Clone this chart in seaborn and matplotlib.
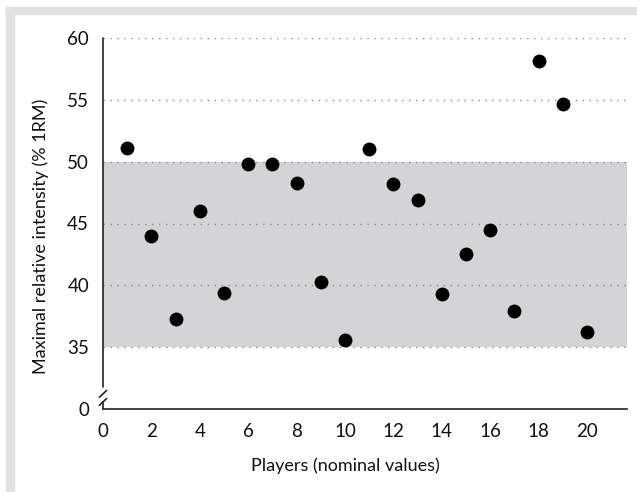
import numpy as np
import pandas as pd
import matplotlib
matplotlib.use("Agg")
import matplotlib.pyplot as plt
from matplotlib.patches import Rectangle
from matplotlib.lines import Line2D
import seaborn as sns

# ---------------------------------------------------------------------------
# Data
# ---------------------------------------------------------------------------
players = [1, 2, 3, 4, 5, 6, 7, 8, 9, 10,
           11, 12, 13, 14, 15, 16, 17, 18, 19, 20]
intensity = [51.1, 44.0, 37.3, 46.0, 39.4, 49.8, 49.8, 48.3, 40.3, 35.6,
             51.0, 48.2, 46.9, 39.3, 42.5, 44.5, 37.9, 58.1, 54.7, 36.2]

band_low, band_high = 35, 50          # shaded reference range
y_ticks = [30, 35, 40, 45, 50, 55, 60]  # 30 stands in for the broken "0"
y_ticklabels = ["0", "35", "40", "45", "50", "55", "60"]
x_ticks = [0, 2, 4, 6, 8, 10, 12, 14, 16, 18, 20]

df = pd.DataFrame({"player": players, "intensity": intensity})

# ---------------------------------------------------------------------------
# Styling
# ---------------------------------------------------------------------------
sns.set_theme(style="white")
plt.rcParams["font.family"] = ["Lato", "DejaVu Sans"]
plt.rcParams["axes.linewidth"] = 1.2

fig = plt.figure(figsize=(6.37, 4.92), dpi=100)

# outer frame: grey bands at top and left
fig.patches.append(Rectangle((6 / 637, 1 - 14 / 492), 1, 7 / 492,
                             transform=fig.transFigure, color="#e1e1e3", zorder=0))
fig.patches.append(Rectangle((6 / 637, 0), 8 / 637, 1 - 7 / 492,
                             transform=fig.transFigure, color="#e1e1e3", zorder=0))

ax = fig.add_axes([103 / 637, 1 - 409 / 492, 524 / 637, 371 / 492])
ax.set_facecolor("none")

x_max = 21.65
ax.set_xlim(0, x_max)
ax.set_ylim(30, 60)

# shaded band
ax.axhspan(band_low, band_high, color="#d4d4d6", lw=0, zorder=0)

# dotted gridlines
for yv in y_ticks[1:]:
    ax.axhline(yv, color="#8a8a8a", lw=1.0, ls=(0, (1, 4)), zorder=1)

sns.scatterplot(data=df, x="player", y="intensity", ax=ax, color="black",
                s=100, edgecolor="black", linewidth=0, zorder=3, legend=False)

ax.set_xticks(x_ticks)
ax.set_yticks(y_ticks)
ax.set_yticklabels(y_ticklabels)
ax.tick_params(axis="both", direction="out", length=6, width=1.3,
               color="#222222", labelsize=13.5, labelcolor="#111111", pad=4)

for side in ["top", "right", "left"]:
    ax.spines[side].set_visible(False)
ax.spines["bottom"].set_color("#222222")

# y spine with a break near the bottom
trans = ax.get_yaxis_transform()
ax.add_line(Line2D([0, 0], [31.75, 60], transform=trans, color="#222222",
                   lw=1.2, clip_on=False))
ax.add_line(Line2D([0, 0], [30, 30.55], transform=trans, color="#222222",
                   lw=1.2, clip_on=False))
for y0 in (31.2, 30.55):
    ax.plot([-0.15, 0.15], [y0 - 0.25, y0 + 0.3], color="#222222", lw=1.2,
            clip_on=False, zorder=4)

ax.set_xlabel("Players (nominal values)", fontsize=13, color="#111111")
ax.set_ylabel("Maximal relative intensity (% 1RM)", fontsize=13, color="#111111")
ax.xaxis.set_label_coords(20 / x_max / 2, -0.13)
ax.yaxis.set_label_coords(-0.103, 0.465)

fig.savefig("out.png", dpi=100)
